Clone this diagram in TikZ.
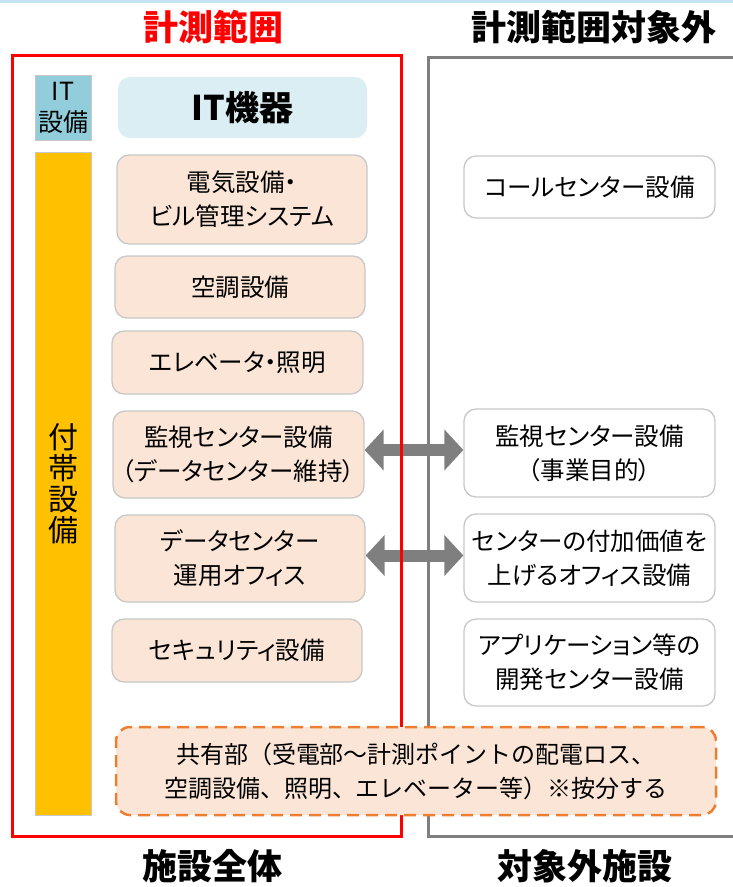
\documentclass[tikz,border=0pt]{standalone}
\usepackage{fontspec}
\usetikzlibrary{arrows.meta,backgrounds}
\newfontfamily\jp{Noto Sans CJK JP}
\newfontfamily\jpp[RawFeature=+palt]{Noto Sans CJK JP}
\definecolor{peach}{HTML}{FBE5D6}
\definecolor{boxgray}{HTML}{C8C8C8}
\definecolor{framegray}{HTML}{7F7F7F}
\definecolor{arrowgray}{HTML}{7F7F7F}
\definecolor{itblue}{HTML}{92CDDC}
\definecolor{itlight}{HTML}{DAEEF3}
\definecolor{amber}{HTML}{FFC000}
\definecolor{dashorange}{HTML}{ED7D31}
\definecolor{topblue}{HTML}{C4E3F3}
\begin{document}
\begin{tikzpicture}[x=1pt,y=-1pt,
  box/.style={draw=boxgray, line width=1.3pt, rounded corners=12pt, align=center,
    inner sep=0pt, font=\jpp\fontsize{24.5}{34}\selectfont, text=black},
  pbox/.style={box, fill=peach},
  wbox/.style={box, fill=white},
  titletext/.style={font=\jp\bfseries\fontsize{35}{40}\selectfont, inner sep=0pt},
  dbl/.style={draw=arrowgray, line width=12pt,
    {Triangle[length=19pt,width=40pt]}-{Triangle[length=19pt,width=40pt]}},
  frame/.style={line width=3pt}]
\useasboundingbox (0,0) rectangle (733,887);
\fill[topblue] (0,0) rectangle (733,2.5);

% titles
\node[titletext, text=red] (t1) at (213,27) {計測範囲};
\node[titletext] (t2) at (594,27) {計測範囲対象外};
\node[titletext] (b1) at (212,866) {施設全体};
\node[titletext] (b2) at (585,866) {対象外施設};

% left column labels
\node[draw=boxgray, line width=0.8pt, fill=itblue, minimum width=56pt, minimum height=65pt,
  inner sep=0pt, align=center, font=\jp\fontsize{25}{31}\selectfont] (itl) at (63,107.5) {IT\\設備};
\node[draw=boxgray, line width=0.8pt, fill=amber, minimum width=56pt, minimum height=663pt,
  inner sep=0pt, align=center, font=\jp\fontsize{30}{31}\selectfont] (fut) at (63,483.5) {付\\帯\\設\\備};

\node[fill=itlight, rounded corners=12pt, minimum width=249pt, minimum height=61pt, inner sep=0pt,
  font=\jp\bfseries\fontsize{34}{36}\selectfont] (itd) at (242.5,107.5) {IT機器};

% left boxes
\node[pbox, minimum width=250pt, minimum height=89pt] (elec) at (242,199.5) {電気設備・\\ビル管理システム};
\node[pbox, minimum width=250pt, minimum height=62pt] (hvac) at (240,287) {空調設備};
\node[pbox, minimum width=251pt, minimum height=63pt] (elev) at (237.5,362.5) {エレベータ・照明};
\node[pbox, minimum width=251pt, minimum height=87pt] (mon) at (238.5,454.5) {監視センター設備\\（データセンター維持）};
\node[pbox, minimum width=250pt, minimum height=87pt] (dco) at (240,558.5) {データセンター\\運用オフィス};
\node[pbox, minimum width=250pt, minimum height=63pt] (sec) at (237,650.5) {セキュリティ設備};

% right boxes
\node[wbox, minimum width=251pt, minimum height=62pt] (call) at (589.5,187) {コールセンター設備};
\node[wbox, minimum width=251pt, minimum height=88pt] (monx) at (589.5,453) {監視センター設備\\（事業目的）};
\node[wbox, minimum width=251pt, minimum height=88pt] (addv) at (589.5,558) {センターの付加価値を\\上げるオフィス設備};
\node[wbox, minimum width=251pt, minimum height=87pt] (appd) at (589.5,662.5) {アプリケーション等の\\開発センター設備};

% shared
\node[draw=dashorange, line width=2.5pt, dash pattern=on 12pt off 7pt, fill=peach,
  rounded corners=14pt, minimum width=600pt, minimum height=88pt, inner sep=0pt, align=center,
  font=\jp\fontsize{24}{34}\selectfont] (shared) at (416,771)
  {共有部（受電部～計測ポイントの配電ロス、\\空調設備、照明、エレベーター等）※按分する};

\begin{pgfonlayer}{background}
\draw[dbl] ([yshift=4.5pt]mon.east) -- ([yshift=4.5pt]mon.east -| monx.west);
\draw[dbl] ([yshift=3pt]dco.east) -- ([yshift=3pt]dco.east -| addv.west);
\draw[frame, draw=red] (12,55) rectangle (401,836);
\draw[frame, draw=framegray] (735,57) -- (428,57) -- (428,836) -- (735,836);
\end{pgfonlayer}
\end{tikzpicture}
\end{document}
